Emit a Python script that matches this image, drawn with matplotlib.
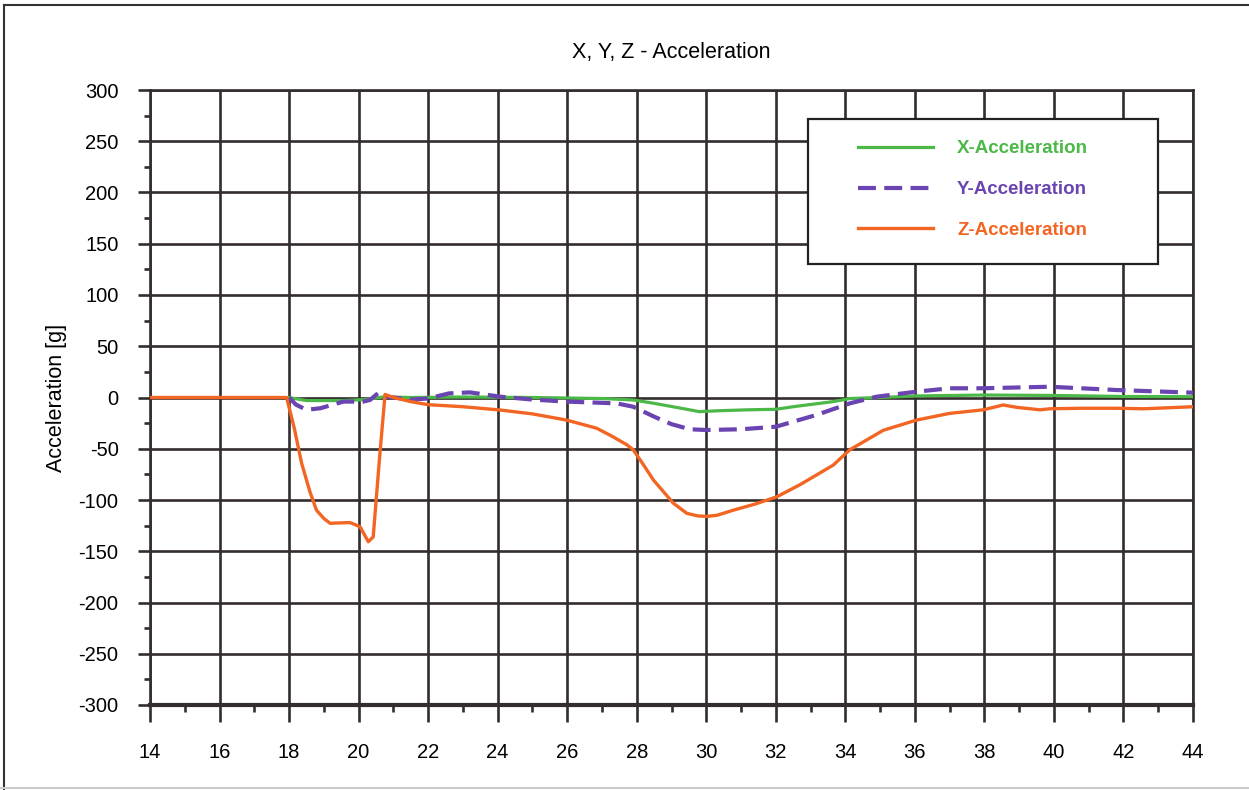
import matplotlib
matplotlib.use("Agg")
import matplotlib.pyplot as plt
from matplotlib.lines import Line2D
from matplotlib.patches import Rectangle
from matplotlib.ticker import MultipleLocator

plt.rcParams["font.family"] = ["Liberation Sans", "DejaVu Sans"]
plt.rcParams["axes.unicode_minus"] = False

# Z-acceleration (orange)
z_t = [14, 17.93, 18.15, 18.36, 18.6, 18.79, 19.0, 19.18, 19.75, 20.04, 20.28,
       20.42, 20.6, 20.76, 21.0, 21.5, 22.0, 23.0, 24.07, 25.0, 25.98, 26.85,
       27.3, 27.71, 27.9, 28.2, 28.48, 29.05, 29.44, 29.75, 30.0, 30.3, 30.77,
       31.4, 32.02, 32.7, 33.65, 34.13, 35.09, 36.05, 37.0, 37.97, 38.54,
       38.93, 39.6, 39.88, 40.8, 41.8, 42.57, 43.3, 44]
z_val = [0, 0, -30, -64, -92, -110, -118, -122.7, -122, -126, -140.7,
         -136, -60, 3, 0, -4, -7, -9, -12.2, -16, -22, -30,
         -38, -46, -51, -66, -80.5, -103, -113, -115.5, -116, -115, -110,
         -104, -97, -85, -66, -51, -32, -22, -15.5, -12, -7.3,
         -9.6, -12, -11, -10.5, -10.5, -11, -10, -9]

# X-acceleration (green)
x_t = [18.0, 18.5, 19.5, 20.2, 20.7, 21.5, 23.0, 25.0, 27.0, 27.9, 28.5,
       29.2, 29.8, 30.3, 31.2, 32.0, 32.5, 33.65, 34.13, 35.0, 36.0, 38.0,
       40.0, 42.0, 44]
x_val = [0, -3, -3, -2, 0.5, 0, 0.5, 0, -1, -2.4, -5.7,
         -10, -13.8, -13, -12, -11.5, -9, -4, -1, 0, 1.5, 2.4,
         2, 1, 0.8]

# Y-acceleration (purple, dashed)
y_t = [18.0, 18.2, 18.5, 18.9, 19.56, 20.13, 20.33, 20.61, 20.8, 21.5,
       22.0, 22.6, 23.2, 24.07, 25.0, 25.98, 27.42, 27.9, 28.5, 29.0, 29.53,
       30.0, 31.0, 32.0, 33.17, 34.13, 34.9, 36.05, 37.0, 37.97, 39.88, 41.8, 44]
y_val = [0, -7, -12, -10.5, -4, -4, -2.4, 5.7, 0.8, -2,
         -1, 4, 5, 0.8, -2, -4, -5.7, -9, -18.7, -26, -31,
         -31.7, -31, -28.5, -17, -5.7, 0.8, 5.7, 9, 9, 10.5, 7.3, 4.7]

LABELS = ["X-Acceleration", "Y-Acceleration", "Z-Acceleration"]

GREEN = "#4cb848"
PURPLE = "#6a44b0"
ORANGE = "#f26522"
GRID = "#332d2d"

W, H = 1249, 790
fig = plt.figure(figsize=(W / 100, H / 100), dpi=100)
ax = fig.add_axes([150 / W, 85 / H, 1043 / W, 615 / H])

ax.plot(x_t, x_val, color=GREEN, lw=2.3, label=LABELS[0], zorder=4)
ax.plot(y_t, y_val, color=PURPLE, lw=3.0, ls=(0, (4.3, 2.0)),
        label=LABELS[1], zorder=5)
ax.plot(z_t, z_val, color=ORANGE, lw=2.4, label=LABELS[2], zorder=6)

ax.set_xlim(14, 44)
ax.set_ylim(-300, 300)
ax.xaxis.set_major_locator(MultipleLocator(2))
ax.xaxis.set_minor_locator(MultipleLocator(1))
ax.yaxis.set_major_locator(MultipleLocator(50))
ax.yaxis.set_minor_locator(MultipleLocator(25))
ax.grid(True, which="major", color=GRID, lw=1.9, zorder=1)
for s in ax.spines.values():
    s.set_color(GRID)
    s.set_linewidth(1.9)
ax.spines["bottom"].set_linewidth(3)
ax.tick_params(axis="y", which="major", direction="out", length=8.6, width=1.9,
               color=GRID, labelsize=14.5, pad=14)
ax.tick_params(axis="x", which="major", direction="out", length=12, width=1.9,
               color=GRID, labelsize=14.5, pad=15)
ax.tick_params(axis="y", which="minor", direction="out", length=4.3, width=1.9,
               color=GRID)
ax.tick_params(axis="x", which="minor", direction="out", length=5, width=1.9,
               color=GRID)
ax.set_ylabel("Acceleration [g]", fontsize=15.5, labelpad=8)
ax.set_title("X, Y, Z - Acceleration", fontsize=15.5, pad=23)
ax.set_axisbelow(True)

# legend box (wider than its content, as in the original)
box = Rectangle((808 / W, (H - 264) / H), 350 / W, 145 / H,
                transform=fig.transFigure, facecolor="white",
                edgecolor="#222222", lw=1.6, zorder=9, clip_on=False)
ax.add_patch(box)
leg = ax.legend(loc="upper left", bbox_to_anchor=(858 / W, (H - 140) / H),
                bbox_transform=fig.transFigure, frameon=False, fontsize=13.5,
                handlelength=4.0, handletextpad=1.28, labelspacing=1.27,
                borderpad=0, borderaxespad=0)
leg.set_zorder(10)
for text, col in zip(leg.get_texts(), [GREEN, PURPLE, ORANGE]):
    text.set_color(col)
    text.set_fontweight("bold")

# outer frame of the picture
fig.add_artist(Line2D([4 / W, 1], [785 / H, 785 / H], color="#333333", lw=1.5))
fig.add_artist(Line2D([4 / W, 4 / W], [0, 785 / H], color="#333333", lw=1.5))
fig.add_artist(Line2D([0, 1], [2 / H, 2 / H], color="#cccccc", lw=1.5))

fig.savefig("out.png", dpi=100)
